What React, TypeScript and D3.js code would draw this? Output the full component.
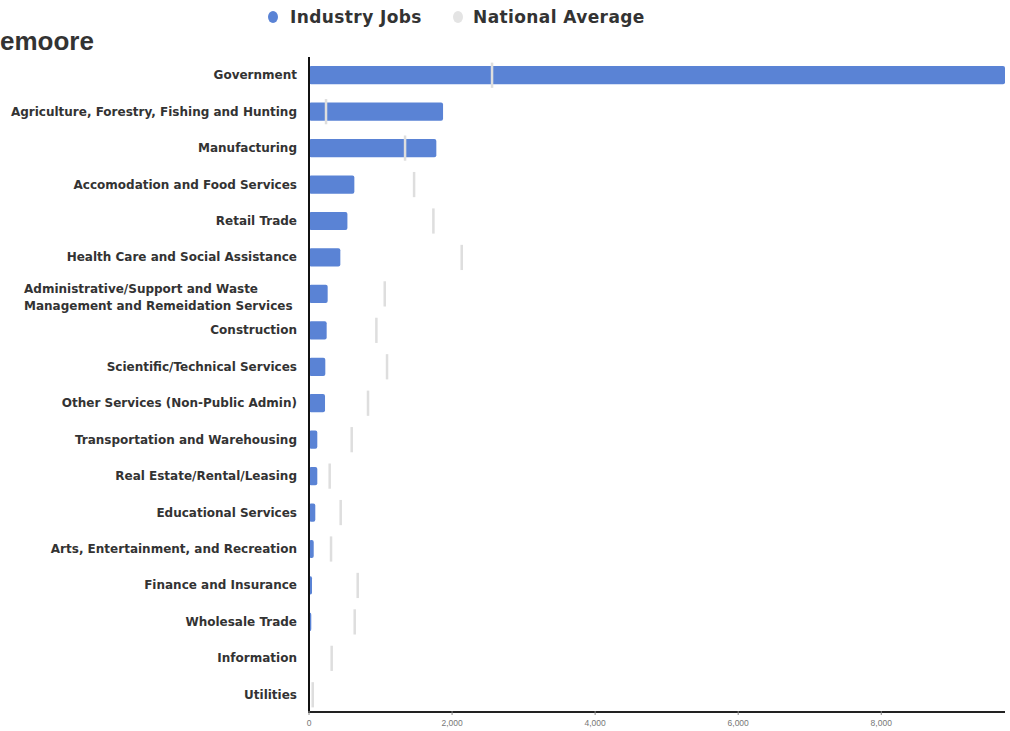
import React from "react";
import * as d3 from "d3";

const categories = [
  "Government",
  "Agriculture, Forestry, Fishing and Hunting",
  "Manufacturing",
  "Accomodation and Food Services",
  "Retail Trade",
  "Health Care and Social Assistance",
  "Administrative/Support and Waste|Management and Remeidation Services",
  "Construction",
  "Scientific/Technical Services",
  "Other Services (Non-Public Admin)",
  "Transportation and Warehousing",
  "Real Estate/Rental/Leasing",
  "Educational Services",
  "Arts, Entertainment, and Recreation",
  "Finance and Insurance",
  "Wholesale Trade",
  "Information",
  "Utilities",
];

const industryJobs = [9730, 1874, 1780, 634, 537, 438, 261, 247, 228, 224, 116, 116, 88, 66, 42, 32, 6, 4];
const nationalAverage = [2559, 238, 1343, 1469, 1739, 2135, 1059, 942, 1091, 825, 597, 289, 443, 308, 681, 639, 317, 52];

const xTicks = [0, 2000, 4000, 6000, 8000];
const legendItems = ["Industry Jobs", "National Average"];
const title = "emoore";

const W = 1010;
const H = 731;
const BLUE = "#5a83d5";
const GRAY = "#dedede";

export default function App() {
  const x = d3.scaleLinear().domain([0, 9730]).range([309, 1005]);
  const y = d3
    .scaleBand<string>()
    .domain(categories)
    .range([57, 713])
    .paddingInner(0.5)
    .paddingOuter(0.25);
  const bw = y.bandwidth();
  const fmt = d3.format(",");
  const labelFont = "'DejaVu Sans', sans-serif";

  return (
    <svg
      width={W}
      height={H}
      style={{ position: "absolute", left: 0, top: 0, background: "#fff" }}
    >
      {/* title */}
      <text
        x={0}
        y={50}
        fontFamily="'Liberation Sans', Arial, sans-serif"
        fontWeight="bold"
        fontSize={26}
        fill="#333"
      >
        {title}
      </text>

      {/* legend */}
      <g fontFamily={labelFont} fontWeight="bold" fontSize={17} letterSpacing={0.4} fill="#333">
        <ellipse cx={273} cy={17} rx={5} ry={6} fill={BLUE} />
        <text x={290} y={23}>{legendItems[0]}</text>
        <ellipse cx={458} cy={17} rx={5} ry={6} fill="#e4e4e4" />
        <text x={473} y={23}>{legendItems[1]}</text>
      </g>

      {/* bars */}
      {categories.map((c, i) => (
        <rect
          key={"b" + c}
          x={x(0)}
          y={y(c)!}
          width={Math.max(0, x(industryJobs[i]) - x(0))}
          height={bw}
          rx={2}
          fill={BLUE}
        />
      ))}

      {/* national average markers */}
      {categories.map((c, i) => (
        <rect
          key={"m" + c}
          x={x(nationalAverage[i]) - 1.25}
          y={y(c)! - 3.5}
          width={2.5}
          height={bw + 7}
          fill={GRAY}
        />
      ))}

      {/* category labels */}
      <g fontFamily={labelFont} fontWeight="bold" fontSize={12} fill="#333">
        {categories.map((c) => {
          const cy = y(c)! + bw / 2;
          const parts = c.split("|");
          if (parts.length > 1) {
            return (
              <text key={"l" + c} x={24} y={cy - 1}>
                <tspan x={24}>{parts[0]}</tspan>
                <tspan x={24} dy={17}>{parts[1]}</tspan>
              </text>
            );
          }
          return (
            <text key={"l" + c} x={297} y={cy + 4} textAnchor="end">
              {c}
            </text>
          );
        })}
      </g>

      {/* axes */}
      <line x1={x(0)} x2={x(0)} y1={57} y2={713} stroke="#111" strokeWidth={2} />
      <line x1={x(0) - 1} x2={1005} y1={712} y2={712} stroke="#222" strokeWidth={2} />
      {xTicks.map((t) => (
        <g key={"t" + t}>
          <line x1={x(t)} x2={x(t)} y1={711} y2={715} stroke="#888" strokeWidth={1} />
          <text
            x={x(t)}
            y={726}
            textAnchor="middle"
            fontFamily="'Liberation Sans', Arial, sans-serif"
            fontSize={8.5}
            fill="#777"
          >
            {fmt(t)}
          </text>
        </g>
      ))}
    </svg>
  );
}
